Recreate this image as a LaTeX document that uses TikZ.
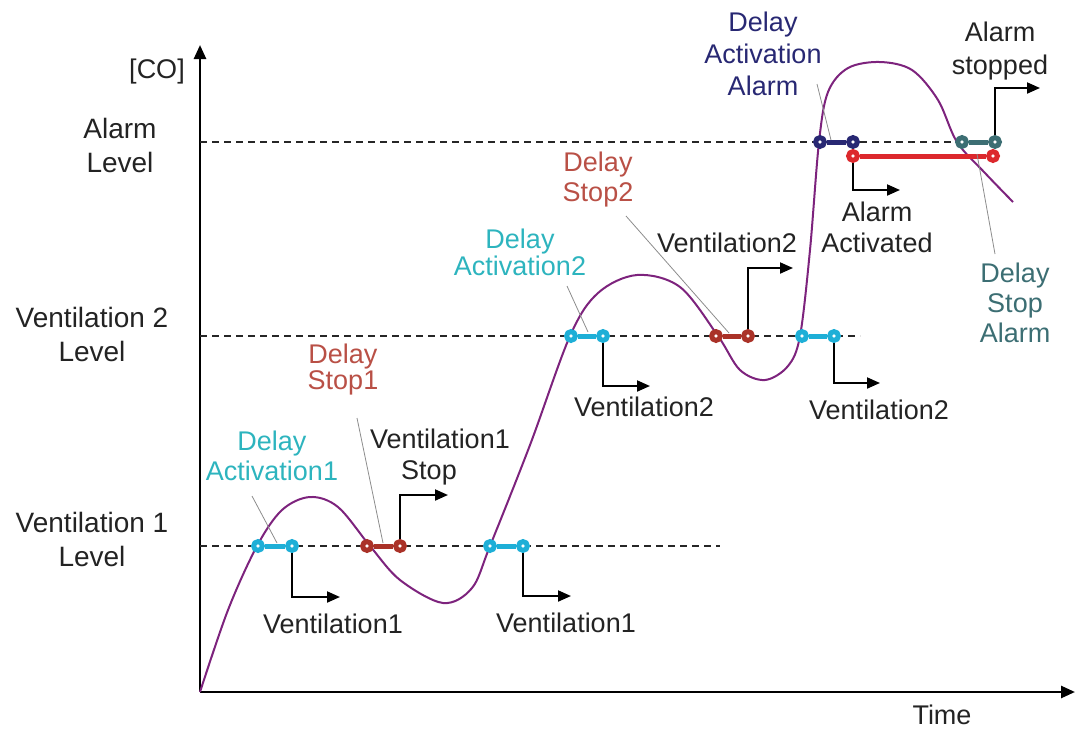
\documentclass[tikz,border=0pt]{standalone}
\usepackage{fontspec}
\setmainfont{Liberation Sans}
\usetikzlibrary{arrows.meta}
\definecolor{cydot}{RGB}{30,175,215}
\definecolor{cytext}{RGB}{45,180,190}
\definecolor{rddot}{RGB}{170,50,40}
\definecolor{rdbar}{RGB}{220,40,45}
\definecolor{rdtext}{RGB}{185,80,70}
\definecolor{navy}{RGB}{40,40,115}
\definecolor{tealc}{RGB}{60,110,115}
\definecolor{curvec}{RGB}{125,35,125}
\definecolor{txt}{RGB}{35,35,35}
\begin{document}
\begin{tikzpicture}[x=0.5pt,y=-0.5pt,
  font=\fontsize{13.5}{15}\selectfont, text=txt,
  dot/.style={circle, draw=#1, fill=white, line width=2.5pt, inner sep=0pt, minimum size=4.4pt},
  bar/.style={draw=#1, line width=2.5pt},
  lvl/.style={dash pattern=on 3.5pt off 2.5pt, line width=0.9pt, black!85},
  axis/.style={line width=1.3pt, -{Triangle[length=7pt,width=6pt]}},
  elbow/.style={line width=1pt, -{Triangle[length=6.5pt,width=5.5pt]}},
  ptr/.style={black!45, line width=0.4pt},
  lab/.style={align=center, inner sep=0pt}]
\useasboundingbox (0,0) rectangle (1078,729);

% axes
\coordinate (O) at (200,692);
\coordinate (ytop) at (200,45);
\coordinate (xend) at (1075,692);
\draw[axis] (O) -- (ytop);
\draw[axis] (O) -- (xend);
\node[lab] (co) at (157,72) {[CO]};
\node[lab] (time) at (942,715) {Time};

% level lines
\coordinate (L1a) at (200,546); \coordinate (L1b) at (720,546);
\coordinate (L2a) at (200,336); \coordinate (L2b) at (860,336);
\coordinate (L3a) at (200,142); \coordinate (L3b) at (995,142);
\draw[lvl] (L1a) -- (L1b);
\draw[lvl] (L2a) -- (L2b);
\draw[lvl] (L3a) -- (L3b);
\node[lab, font=\fontsize{14}{17}\selectfont] (alev) at (120,145) {Alarm\\Level};
\node[lab, font=\fontsize{14}{17}\selectfont] (v2lev) at (92,334) {Ventilation 2\\Level};
\node[lab, font=\fontsize{14}{17}\selectfont] (v1lev) at (92,539) {Ventilation 1\\Level};

% curve
\draw[curvec, line width=1pt] plot[smooth, tension=0.55] coordinates {
 (200,692) (228,610) (257,546) (282,510) (310,497) (338,507) (370,546) (400,580)
 (443,603) (472,588) (490,546) (530,445) (570,336) (598,293) (637,275) (680,287)
 (718,336) (740,370) (765,380) (788,366) (800,336) (810,250) (819,142) (828,92)
 (848,68) (880,62) (912,70) (938,100) (957,142) (985,173) (1013,202)};

% dumbbells level 1
\node[dot=cydot] (a1l) at (258,546) {};
\node[dot=cydot] (a1r) at (292,546) {};
\draw[bar=cydot] (a1l) -- (a1r);
\node[dot=rddot] (s1l) at (367,546) {};
\node[dot=rddot] (s1r) at (400,546) {};
\draw[bar=rddot] (s1l) -- (s1r);
\node[dot=cydot] (b1l) at (490,546) {};
\node[dot=cydot] (b1r) at (523,546) {};
\draw[bar=cydot] (b1l) -- (b1r);

% dumbbells level 2
\node[dot=cydot] (a2l) at (571,336) {};
\node[dot=cydot] (a2r) at (603,336) {};
\draw[bar=cydot] (a2l) -- (a2r);
\node[dot=rddot] (s2l) at (716,336) {};
\node[dot=rddot] (s2r) at (748,336) {};
\draw[bar=rddot] (s2l) -- (s2r);
\node[dot=cydot] (b2l) at (802,336) {};
\node[dot=cydot] (b2r) at (834,336) {};
\draw[bar=cydot] (b2l) -- (b2r);

% alarm level
\node[dot=navy] (aal) at (820,142) {};
\node[dot=navy] (aar) at (853,142) {};
\draw[bar=navy] (aal) -- (aar);
\node[dot=rdbar] (ral) at (853,156) {};
\node[dot=rdbar] (rar) at (993,156) {};
\draw[bar=rdbar] (ral) -- (rar);
\node[dot=tealc] (tal) at (962,142) {};
\node[dot=tealc] (tar) at (995,142) {};
\draw[bar=tealc] (tal) -- (tar);

% elbow arrows
\coordinate (e1) at (340,597);
\coordinate (e2) at (448,495);
\coordinate (e3) at (571,596);
\coordinate (e4) at (650,386);
\coordinate (e5) at (793,268);
\coordinate (e6) at (880,383);
\coordinate (e7) at (900,190);
\coordinate (e8) at (1040,88);
\draw[elbow] (a1r.south) |- (e1);
\draw[elbow] (s1r.north) |- (e2);
\draw[elbow] (b1r.south) |- (e3);
\draw[elbow] (a2r.south) |- (e4);
\draw[elbow] (s2r.north) |- (e5);
\draw[elbow] (b2r.south) |- (e6);
\draw[elbow] (ral.south) |- (e7);
\draw[elbow] (tar.north) |- (e8);

% action labels
\node[lab] (v1a) at (333,624) {Ventilation1};
\node[lab] (v1s) at (440,439) {Ventilation1};
\node[lab] (v1st) at (429,473) {Stop};
\node[lab] (v1b) at (566,623) {Ventilation1};
\node[lab] (v2a) at (644,407) {Ventilation2};
\node[lab] (v2b) at (727,243) {Ventilation2};
\node[lab] (v2c) at (879,410) {Ventilation2};
\node[lab, font=\fontsize{13.5}{15.5}\selectfont] (aact) at (877,227) {Alarm\\Activated};
\node[lab, font=\fontsize{13.5}{16.5}\selectfont] (astop) at (1000,51) {Alarm\\stopped};

% delay labels
\node[lab, text=cytext, font=\fontsize{13.5}{15}\selectfont] (dA1) at (272,456) {Delay\\Activation1};
\node[lab, text=rdtext, font=\fontsize{13.5}{13}\selectfont] (dS1) at (343,370) {Delay\\Stop1};
\node[lab, text=cytext, font=\fontsize{13.5}{13.5}\selectfont] (dA2) at (520,252) {Delay\\Activation2};
\node[lab, text=rdtext, font=\fontsize{13.5}{15}\selectfont] (dS2) at (598,180) {Delay\\Stop2};
\node[lab, text=navy, font=\fontsize{13.5}{16}\selectfont] (dAA) at (763,54) {Delay\\Activation\\Alarm};
\node[lab, text=tealc, font=\fontsize{13.5}{15}\selectfont] (dSA) at (1015,303) {Delay\\Stop\\Alarm};

% pointer lines
\coordinate (p1a) at (252,496); \coordinate (p1b) at (277,543);
\coordinate (p2a) at (357,418); \coordinate (p2b) at (383,543);
\coordinate (p3a) at (567,286); \coordinate (p3b) at (588,332);
\coordinate (p4a) at (626,216); \coordinate (p4b) at (729,333);
\coordinate (p5a) at (817,84);  \coordinate (p5b) at (831,140);
\coordinate (p6a) at (977,154); \coordinate (p6b) at (995,254);
\draw[ptr] (p1a) -- (p1b);
\draw[ptr] (p2a) -- (p2b);
\draw[ptr] (p3a) -- (p3b);
\draw[ptr] (p4a) -- (p4b);
\draw[ptr] (p5a) -- (p5b);
\draw[ptr] (p6a) -- (p6b);
\end{tikzpicture}
\end{document}
